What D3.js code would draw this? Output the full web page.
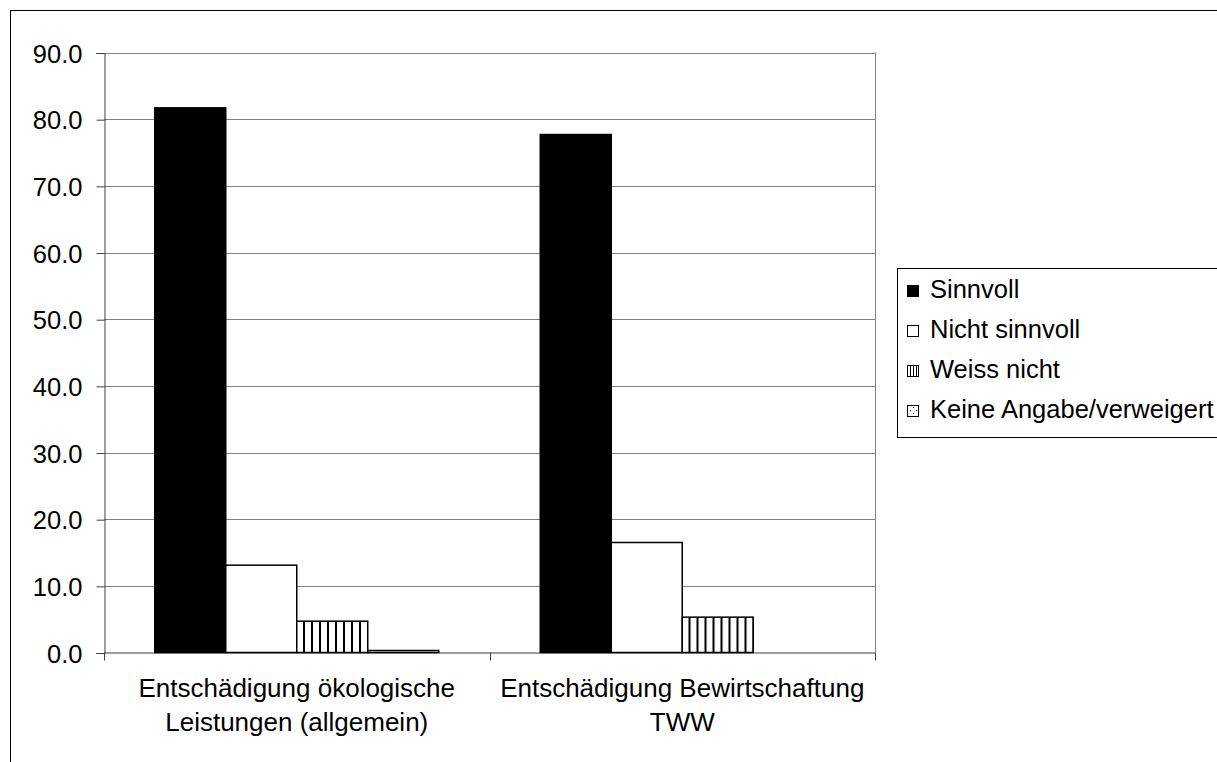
<!DOCTYPE html>
<html>
<head>
<meta charset="utf-8">
<script src="https://cdn.jsdelivr.net/npm/d3@7"></script>
<style>
  html, body { margin: 0; padding: 0; background: #fff; }
  svg { display: block; }
  text { font-family: "Liberation Sans", Arial, sans-serif; fill: #000; }
</style>
</head>
<body>
<svg id="chart" width="1217" height="762"></svg>
<script>
// Survey answers per question (percent)
const categories = [
  ["Entschädigung ökologische", "Leistungen (allgemein)"],
  ["Entschädigung Bewirtschaftung", "TWW"]
];
const seriesNames = ["Sinnvoll", "Nicht sinnvoll", "Weiss nicht", "Keine Angabe/verweigert"];
const sinnvoll      = [81.7, 77.7];
const nichtSinnvoll = [13.1, 16.5];
const weissNicht    = [4.7, 5.3];
const keineAngabe   = [0.3, 0.0];
const yTicks = [0, 10, 20, 30, 40, 50, 60, 70, 80, 90];

const seriesValues = [sinnvoll, nichtSinnvoll, weissNicht, keineAngabe];

const svg = d3.select("#chart");
const W = 1217, H = 762;

// fill patterns
const defs = svg.append("defs");
const stripes = defs.append("pattern")
  .attr("id", "stripes").attr("patternUnits", "userSpaceOnUse")
  .attr("width", 8).attr("height", 8).attr("x", 2);
stripes.append("rect").attr("width", 8).attr("height", 8).attr("fill", "#fff");
stripes.append("rect").attr("x", 5).attr("width", 2).attr("height", 8).attr("fill", "#000");

const stripesSmall = defs.append("pattern")
  .attr("id", "stripesSmall").attr("patternUnits", "userSpaceOnUse")
  .attr("width", 3).attr("height", 3);
stripesSmall.append("rect").attr("width", 3).attr("height", 3).attr("fill", "#fff");
stripesSmall.append("rect").attr("x", 1).attr("width", 1).attr("height", 3).attr("fill", "#000");

const dots = defs.append("pattern")
  .attr("id", "dots").attr("patternUnits", "userSpaceOnUse")
  .attr("width", 6).attr("height", 6);
dots.append("rect").attr("width", 6).attr("height", 6).attr("fill", "#fff");
dots.append("rect").attr("x", 1).attr("y", 1).attr("width", 1).attr("height", 1).attr("fill", "#000");
dots.append("rect").attr("x", 4).attr("y", 4).attr("width", 1).attr("height", 1).attr("fill", "#000");

const fills = ["#000", "#fff", "url(#stripes)", "url(#dots)"];
const legendFills = ["#000", "#fff", "url(#stripesSmall)", "url(#dots)"];

// outer frame
svg.append("rect")
  .attr("x", 10.5).attr("y", 10.5)
  .attr("width", W + 20).attr("height", H + 20)
  .attr("fill", "none").attr("stroke", "#000").attr("stroke-width", 1);

// scales
const plot = { left: 104, right: 875, top: 52.5, bottom: 652.5 };
const y = d3.scaleLinear().domain([0, 90]).range([plot.bottom, plot.top]);
const x0 = d3.scaleBand().domain(d3.range(categories.length))
  .range([plot.left, plot.right]).paddingInner(0).paddingOuter(0);
const x1 = d3.scaleBand().domain(d3.range(seriesNames.length))
  .range([0, x0.bandwidth()]).paddingInner(0).paddingOuter(0.715);

// gridlines
svg.append("g")
  .selectAll("line").data(yTicks.filter(t => t > 0)).join("line")
  .attr("x1", plot.left).attr("x2", plot.right)
  .attr("y1", d => Math.round(y(d)) + 0.5).attr("y2", d => Math.round(y(d)) + 0.5)
  .attr("stroke", "#808080").attr("stroke-width", 1);

// right edge of plot area
svg.append("line")
  .attr("x1", plot.right + 0.5).attr("x2", plot.right + 0.5)
  .attr("y1", plot.top).attr("y2", plot.bottom)
  .attr("stroke", "#808080");

// y axis
const yAxis = d3.axisLeft(y).tickValues(yTicks).tickFormat(d3.format(".1f"))
  .tickSize(8).tickPadding(14);
const gy = svg.append("g").attr("transform", `translate(${plot.left + 0.5},0.5)`).call(yAxis);
gy.select(".domain").attr("stroke", "#404040");
gy.selectAll(".tick line").attr("stroke", "#404040");
gy.selectAll(".tick text")
  .attr("font-size", 25.5).attr("font-family", "'Liberation Sans', Arial, sans-serif")
  .attr("fill", "#000").attr("dy", "0.36em");

// x axis baseline and ticks
const xTicks = [plot.left, plot.left + x0.bandwidth(), plot.right];
svg.append("line")
  .attr("x1", plot.left).attr("x2", plot.right)
  .attr("y1", plot.bottom + 0.5).attr("y2", plot.bottom + 0.5)
  .attr("stroke", "#404040");
svg.append("g").selectAll("line").data(xTicks).join("line")
  .attr("x1", d => Math.round(d) + 0.5).attr("x2", d => Math.round(d) + 0.5)
  .attr("y1", plot.bottom).attr("y2", plot.bottom + 8)
  .attr("stroke", "#404040");

// bars
const groups = svg.append("g").selectAll("g")
  .data(categories.map((c, i) => i)).join("g")
  .attr("transform", i => `translate(${x0(i)},0)`);
groups.selectAll("rect")
  .data(i => seriesValues.map((vals, s) => ({ s, v: vals[i] })))
  .join("rect")
  .filter(d => d.v > 0)
  .attr("x", d => x1(d.s))
  .attr("y", d => y(d.v))
  .attr("width", x1.bandwidth())
  .attr("height", d => y(0) - y(d.v))
  .attr("fill", d => fills[d.s])
  .attr("stroke", "#000").attr("stroke-width", 1.5);

// category labels
const catLabels = svg.append("g").selectAll("text")
  .data(categories).join("text")
  .attr("x", (d, i) => x0(i) + x0.bandwidth() / 2)
  .attr("y", 697)
  .attr("text-anchor", "middle")
  .attr("font-size", 26);
catLabels.selectAll("tspan").data(d => d).join("tspan")
  .attr("x", function () { return d3.select(this.parentNode).attr("x"); })
  .attr("dy", (d, j) => j === 0 ? 0 : 34)
  .text(d => d);

// legend
const legend = svg.append("g");
legend.append("rect")
  .attr("x", 897.5).attr("y", 268.5)
  .attr("width", 400).attr("height", 169)
  .attr("fill", "#fff").attr("stroke", "#000").attr("stroke-width", 1);
const items = legend.selectAll("g.item").data(seriesNames).join("g")
  .attr("class", "item")
  .attr("transform", (d, i) => `translate(0,${298 + i * 40})`);
items.append("rect")
  .attr("x", 907.5).attr("y", -12.5)
  .attr("width", 11).attr("height", 11)
  .attr("fill", (d, i) => legendFills[i])
  .attr("stroke", "#000").attr("stroke-width", 1);
items.append("text")
  .attr("x", 930).attr("y", 0)
  .attr("font-size", 25.5)
  .text(d => d);
</script>
</body>
</html>
